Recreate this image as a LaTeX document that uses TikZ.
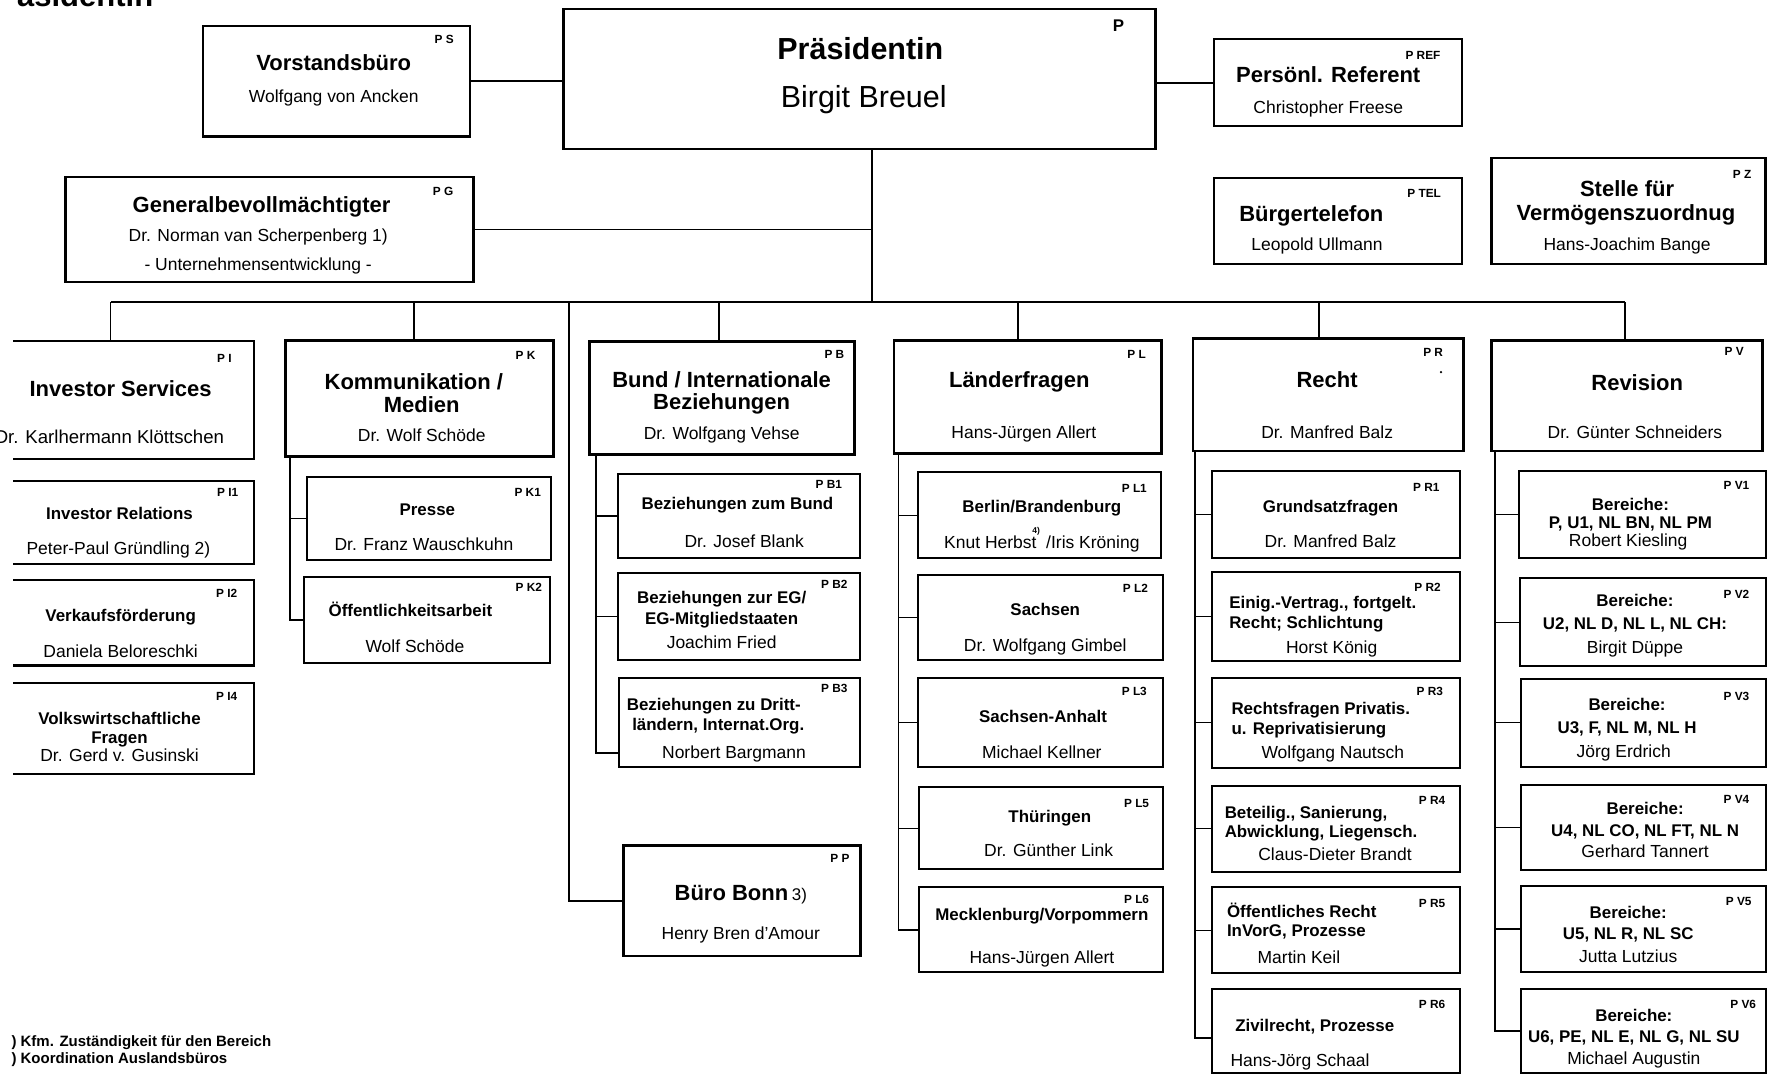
\documentclass[tikz,border=0pt]{standalone}
\usepackage{fontspec}
\setmainfont{Liberation Sans}
% box with name #1, style #2, corners (#3,#4) and (#5,#6)
\newcommand\orgbox[6]{\node[#2, minimum width={(#5)-(#3)}, minimum height={(#6)-(#4)}] (#1) at ({((#3)+(#5))/2},{((#4)+(#6))/2}) {};}
% box cut by the left page edge: only top, right and bottom sides
\newcommand\cutbox[5]{\node[inner sep=0pt, minimum width={(#4)-(#2)}, minimum height={(#5)-(#3)}] (#1) at ({((#2)+(#4))/2},{((#3)+(#5))/2}) {};
  \draw[subline] ([xshift=22]#1.north west) -- (#1.north east) -- (#1.south east) -- ([xshift=22]#1.south west);}
% one line of text: style, name, x, y, text
\newcommand\tx[5]{\node[#1] (#2) at (#3,#4) {#5};}
\begin{document}
\begin{tikzpicture}[x=1pt,y=-1pt,
  box/.style={draw, line width=2.3pt, inner sep=0pt},
  subbox/.style={draw, line width=1.8pt, inner sep=0pt},
  subline/.style={line width=1.8pt, line join=miter},
  link/.style={line width=1.6pt},
  tick/.style={line width=1.2pt},
  txt/.style={inner sep=0pt, text height=0.7em, text depth=0.2em},
  cd/.style={txt, font=\bfseries\fontsize{10.5}{12}\selectfont},
  ttl/.style={txt, font=\bfseries\fontsize{19.5}{22}\selectfont},
  sub/.style={txt, font=\bfseries\fontsize{15}{17}\selectfont},
  nm/.style={txt, font=\fontsize{15.5}{18}\selectfont},
  fn/.style={txt, anchor=west, font=\bfseries\fontsize{13.3}{15}\selectfont},
]
\useasboundingbox (0,0) rectangle (1568,953);

% heading, cut by the page edges
\node[anchor=base west, inner sep=0pt, font=\bfseries\fontsize{27.5}{30}\selectfont] (head) at (15,6) {äsidentin};

% ---------- top level ----------
\orgbox{p}{box}{500}{8}{1025}{132}
\tx{cd, font=\bfseries\fontsize{15}{16}\selectfont}{p-c}{992}{25}{P}
\tx{txt, font=\bfseries\fontsize{27}{30}\selectfont}{p-1}{763}{50}{Präsidentin}
\tx{txt, font=\fontsize{27}{30}\selectfont}{p-2}{766}{93}{Birgit Breuel}

\orgbox{ps}{box}{180}{23}{417}{121}
\tx{cd}{ps-c}{394}{36}{P S}
\tx{ttl}{ps-1}{296}{60}{Vorstandsbüro}
\tx{nm}{ps-2}{296}{88}{Wolfgang von Ancken}

\orgbox{pref}{subbox}{1077}{35}{1297}{112}
\tx{cd}{pref-c}{1262}{50}{P REF}
\tx{ttl}{pref-1}{1178}{71}{Persönl. Referent}
\tx{nm}{pref-2}{1178}{98}{Christopher Freese}

\orgbox{pg}{box}{58}{157}{420}{250}
\tx{cd}{pg-c}{393}{171}{P G}
\tx{ttl}{pg-1}{232}{186}{Generalbevollmächtigter}
\tx{nm}{pg-2}{229}{212}{Dr. Norman van Scherpenberg 1)}
\tx{nm}{pg-3}{229}{237}{- Unternehmensentwicklung -}

\orgbox{ptel}{subbox}{1077}{158}{1297}{234}
\tx{cd}{ptel-c}{1263}{173}{P TEL}
\tx{ttl}{ptel-1}{1163}{194}{Bürgertelefon}
\tx{nm}{ptel-2}{1168}{220}{Leopold Ullmann}

\orgbox{pz}{box}{1323}{140}{1566}{234}
\tx{cd}{pz-c}{1545}{156}{P Z}
\tx{ttl}{pz-1}{1443}{172}{Stelle für}
\tx{ttl}{pz-2}{1442}{193}{Vermögenszuordnug}
\tx{nm}{pz-3}{1443}{220}{Hans-Joachim Bange}

% ---------- departments ----------
\cutbox{pi}{-10}{303}{225}{407}
\tx{cd}{pi-c}{199}{319}{P I}
\tx{ttl}{pi-1}{107}{349}{Investor Services}
\tx{nm, font=\fontsize{16.5}{18}\selectfont}{pi-2}{97}{391}{Dr. Karlhermann Klöttschen}

\cutbox{pi1}{-10}{427}{225}{500}
\tx{cd}{pi1-c}{202}{438}{P I1}
\tx{sub}{pi1-1}{106}{458}{Investor Relations}
\tx{nm}{pi1-2}{105}{489}{Peter-Paul Gründling 2)}

\cutbox{pi2}{-10}{515}{225}{590}
\tx{cd}{pi2-c}{201}{527}{P I2}
\tx{sub}{pi2-1}{107}{549}{Verkaufsförderung}
\tx{nm}{pi2-2}{107}{581}{Daniela Beloreschki}

\cutbox{pi4}{-10}{606}{225}{686}
\tx{cd}{pi4-c}{201}{619}{P I4}
\tx{sub}{pi4-1}{106}{640}{Volkswirtschaftliche}
\tx{sub}{pi4-2}{106}{657}{Fragen}
\tx{nm}{pi4-3}{106}{673}{Dr. Gerd v. Gusinski}

\orgbox{pk}{box}{253}{302}{491}{405}
\tx{cd}{pk-c}{466}{316}{P K}
\tx{ttl}{pk-1}{367}{343}{Kommunikation /}
\tx{ttl}{pk-2}{374}{363}{Medien}
\tx{nm}{pk-3}{374}{389}{Dr. Wolf Schöde}

\orgbox{pk1}{subbox}{272}{423}{489}{497}
\tx{cd}{pk1-c}{468}{438}{P K1}
\tx{sub}{pk1-1}{379}{455}{Presse}
\tx{nm}{pk1-2}{376}{486}{Dr. Franz Wauschkuhn}

\orgbox{pk2}{subbox}{270}{512}{488}{588}
\tx{cd}{pk2-c}{469}{522}{P K2}
\tx{sub}{pk2-1}{364}{544}{Öffentlichkeitsarbeit}
\tx{nm}{pk2-2}{368}{576}{Wolf Schöde}

\orgbox{pb}{box}{523}{303}{758}{403}
\tx{cd}{pb-c}{740}{315}{P B}
\tx{ttl}{pb-1}{640}{341}{Bund / Internationale}
\tx{ttl}{pb-2}{640}{361}{Beziehungen}
\tx{nm}{pb-3}{640}{387}{Dr. Wolfgang Vehse}

\orgbox{pb1}{subbox}{548}{420}{763}{495}
\tx{cd}{pb1-c}{735}{431}{P B1}
\tx{sub}{pb1-1}{654}{449}{Beziehungen zum Bund}
\tx{nm}{pb1-2}{660}{483}{Dr. Josef Blank}

\orgbox{pb2}{subbox}{548}{508}{763}{585}
\tx{cd}{pb2-c}{740}{519}{P B2}
\tx{sub}{pb2-1}{640}{533}{Beziehungen zur EG/}
\tx{sub}{pb2-2}{640}{551}{EG-Mitgliedstaaten}
\tx{nm}{pb2-3}{640}{573}{Joachim Fried}

\orgbox{pb3}{subbox}{549}{601}{763}{680}
\tx{cd}{pb3-c}{740}{612}{P B3}
\tx{sub}{pb3-1}{633}{628}{Beziehungen zu Dritt-}
\tx{sub}{pb3-2}{637}{645}{ländern, Internat.Org.}
\tx{nm}{pb3-3}{651}{670}{Norbert Bargmann}

\orgbox{pp}{box}{553}{750}{763}{848}
\tx{cd}{pp-c}{745}{762}{P P}
\tx{ttl}{pp-1}{657}{796}{Büro Bonn\,{\mdseries\fontsize{15}{16}\selectfont 3)}}
\tx{nm}{pp-2}{657}{831}{Henry Bren d'Amour}

\orgbox{pl}{box}{793}{302}{1030}{402}
\tx{cd}{pl-c}{1008}{315}{P L}
\tx{ttl}{pl-1}{904}{341}{Länderfragen}
\tx{nm}{pl-2}{908}{386}{Hans-Jürgen Allert}

\orgbox{pl1}{subbox}{814}{419}{1030}{495}
\tx{cd}{pl1-c}{1006}{434}{P L1}
\tx{sub}{pl1-1}{924}{452}{Berlin/Brandenburg}
\tx{nm}{pl1-2}{924}{484}{Knut Herbst\ \ /Iris Kröning}
\tx{cd, font=\bfseries\fontsize{7.5}{8}\selectfont}{pl1-f}{919}{471}{4)}

\orgbox{pl2}{subbox}{814}{510}{1031}{585}
\tx{cd}{pl2-c}{1007}{523}{P L2}
\tx{sub}{pl2-1}{927}{543}{Sachsen}
\tx{nm}{pl2-2}{927}{575}{Dr. Wolfgang Gimbel}

\orgbox{pl3}{subbox}{814}{601}{1031}{680}
\tx{cd}{pl3-c}{1006}{614}{P L3}
\tx{sub}{pl3-1}{925}{638}{Sachsen-Anhalt}
\tx{nm}{pl3-2}{924}{670}{Michael Kellner}

\orgbox{pl5}{subbox}{815}{698}{1031}{771}
\tx{cd}{pl5-c}{1008}{714}{P L5}
\tx{sub}{pl5-1}{931}{727}{Thüringen}
\tx{nm}{pl5-2}{930}{757}{Dr. Günther Link}

\orgbox{pl6}{subbox}{815}{787}{1031}{862}
\tx{cd}{pl6-c}{1008}{799}{P L6}
\tx{sub}{pl6-1}{924}{814}{Mecklenburg/Vorpommern}
\tx{nm}{pl6-2}{924}{852}{Hans-Jürgen Allert}

\orgbox{pr}{box}{1058}{300}{1298}{400}
\tx{cd}{pr-c}{1271}{314}{P R}
\fill (1278,330) circle (1.1);
\tx{ttl}{pr-1}{1177}{341}{Recht}
\tx{nm}{pr-2}{1177}{386}{Dr. Manfred Balz}

\orgbox{pr1}{subbox}{1075}{418}{1295}{495}
\tx{cd}{pr1-c}{1265}{433}{P R1}
\tx{sub}{pr1-1}{1180}{452}{Grundsatzfragen}
\tx{nm}{pr1-2}{1180}{483}{Dr. Manfred Balz}

\orgbox{pr2}{subbox}{1075}{507}{1295}{586}
\tx{cd}{pr2-c}{1266}{522}{P R2}
\tx{sub, anchor=west}{pr2-1}{1090}{537}{Einig.-Vertrag., fortgelt.}
\tx{sub, anchor=west}{pr2-2}{1090}{555}{Recht; Schlichtung}
\tx{nm}{pr2-3}{1181}{577}{Horst König}

\orgbox{pr3}{subbox}{1075}{601}{1295}{681}
\tx{cd}{pr3-c}{1268}{614}{P R3}
\tx{sub, anchor=west}{pr3-1}{1092}{631}{Rechtsfragen Privatis.}
\tx{sub, anchor=west}{pr3-2}{1092}{649}{u. Reprivatisierung}
\tx{nm}{pr3-3}{1182}{670}{Wolfgang Nautsch}

\orgbox{pr4}{subbox}{1075}{697}{1295}{773}
\tx{cd}{pr4-c}{1270}{711}{P R4}
\tx{sub, anchor=west}{pr4-1}{1086}{723}{Beteilig., Sanierung,}
\tx{sub, anchor=west}{pr4-2}{1086}{740}{Abwicklung, Liegensch.}
\tx{nm}{pr4-3}{1184}{761}{Claus-Dieter Brandt}

\orgbox{pr5}{subbox}{1075}{787}{1295}{863}
\tx{cd}{pr5-c}{1270}{802}{P R5}
\tx{sub, anchor=west}{pr5-1}{1088}{811}{Öffentliches Recht}
\tx{sub, anchor=west}{pr5-2}{1088}{828}{InVorG, Prozesse}
\tx{nm}{pr5-3}{1152}{852}{Martin Keil}

\orgbox{pr6}{subbox}{1075}{877}{1295}{952}
\tx{cd}{pr6-c}{1270}{892}{P R6}
\tx{sub}{pr6-1}{1166}{912}{Zivilrecht, Prozesse}
\tx{nm}{pr6-2}{1153}{943}{Hans-Jörg Schaal}

\orgbox{pv}{box}{1323}{302}{1563}{400}
\tx{cd}{pv-c}{1538}{313}{P V}
\tx{ttl}{pv-1}{1452}{344}{Revision}
\tx{nm}{pv-2}{1450}{386}{Dr. Günter Schneiders}

\orgbox{pv1}{subbox}{1347}{418}{1566}{495}
\tx{cd}{pv1-c}{1540}{432}{P V1}
\tx{sub}{pv1-1}{1446}{450}{Bereiche:}
\tx{sub}{pv1-2}{1446}{466}{P, U1, NL BN, NL PM}
\tx{nm}{pv1-3}{1444}{482}{Robert Kiesling}

\orgbox{pv2}{subbox}{1348}{513}{1566}{591}
\tx{cd}{pv2-c}{1540}{528}{P V2}
\tx{sub}{pv2-1}{1450}{535}{Bereiche:}
\tx{sub}{pv2-2}{1450}{556}{U2, NL D, NL L, NL CH:}
\tx{nm}{pv2-3}{1450}{577}{Birgit Düppe}

\orgbox{pv3}{subbox}{1349}{602}{1566}{680}
\tx{cd}{pv3-c}{1540}{619}{P V3}
\tx{sub}{pv3-1}{1443}{628}{Bereiche:}
\tx{sub}{pv3-2}{1443}{648}{U3, F, NL M, NL H}
\tx{nm}{pv3-3}{1440}{669}{Jörg Erdrich}

\orgbox{pv4}{subbox}{1349}{696}{1566}{772}
\tx{cd}{pv4-c}{1540}{710}{P V4}
\tx{sub}{pv4-1}{1459}{720}{Bereiche:}
\tx{sub}{pv4-2}{1459}{739}{U4, NL CO, NL FT, NL N}
\tx{nm}{pv4-3}{1459}{758}{Gerhard Tannert}

\orgbox{pv5}{subbox}{1349}{786}{1566}{862}
\tx{cd}{pv5-c}{1542}{801}{P V5}
\tx{sub}{pv5-1}{1444}{812}{Bereiche:}
\tx{sub}{pv5-2}{1444}{831}{U5, NL R, NL SC}
\tx{nm}{pv5-3}{1444}{851}{Jutta Lutzius}

\orgbox{pv6}{subbox}{1349}{877}{1566}{952}
\tx{cd}{pv6-c}{1546}{892}{P V6}
\tx{sub}{pv6-1}{1449}{903}{Bereiche:}
\tx{sub}{pv6-2}{1449}{922}{U6, PE, NL E, NL G, NL SU}
\tx{nm}{pv6-3}{1449}{942}{Michael Augustin}

% footnotes
\tx{fn}{fn1}{10}{926}{) Kfm. Zuständigkeit für den Bereich}
\tx{fn}{fn2}{10}{941}{) Koordination Auslandsbüros}

% ---------- connectors ----------
\coordinate (bus) at (0,268);
\coordinate (tk) at ([xshift=10.5]p.south);
\draw[link] (ps.east) -- (ps.east -| p.west);
\draw[link] (pref.west) -- (pref.west -| p.east);
\draw[link] (tk) -- (tk |- bus);
\draw[link] (pg.east) -- (pg.east -| tk);

\coordinate (pi-in) at ([xshift=-9.5]pi.north);
\coordinate (pk-in) at ([xshift=-5]pk.north);
\coordinate (pb-in) at ([xshift=-2.5]pb.north);
\coordinate (pl-in) at ([xshift=-8.5]pl.north);
\coordinate (pr-in) at ([xshift=-8]pr.north);
\coordinate (pv-in) at ([xshift=-2]pv.north);
\draw[link] (pi-in |- bus) -- (pv-in |- bus);
\foreach \h in {pi,pk,pb,pl,pr,pv} \draw[link] (\h-in) -- (\h-in |- bus);
\draw[link] (pp.west) -| ([xshift=-47]pp.west |- bus);

% spines down the left side of each department
\coordinate (pk-sp) at ([xshift=5]pk.south west);
\coordinate (pb-sp) at ([xshift=7]pb.south west);
\coordinate (pl-sp) at ([xshift=5]pl.south west);
\coordinate (pr-sp) at ([xshift=3]pr.south west);
\coordinate (pv-sp) at ([xshift=4]pv.south west);

\draw[link] (pk-sp) |- (pk2.west);
\draw[tick] (pk1.west) -- (pk1.west -| pk-sp);

\draw[link] (pb-sp) |- ([yshift=-27]pb3.west);
\foreach \c in {pb1,pb2} \draw[tick] (\c.west) -- (\c.west -| pb-sp);

\draw[link] (pl-sp) |- (pl6.west);
\foreach \c in {pl1,pl2,pl3,pl5} \draw[tick] (\c.west) -- (\c.west -| pl-sp);

\draw[link] (pr-sp) |- ([yshift=-6]pr6.west);
\foreach \c in {pr1,pr2,pr3,pr4,pr5} \draw[tick] (\c.west) -- (\c.west -| pr-sp);

\draw[link] (pv-sp) |- (pv6.west);
\foreach \c in {pv1,pv2,pv3,pv4,pv5} \draw[tick] (\c.west) -- (\c.west -| pv-sp);
\end{tikzpicture}
\end{document}
